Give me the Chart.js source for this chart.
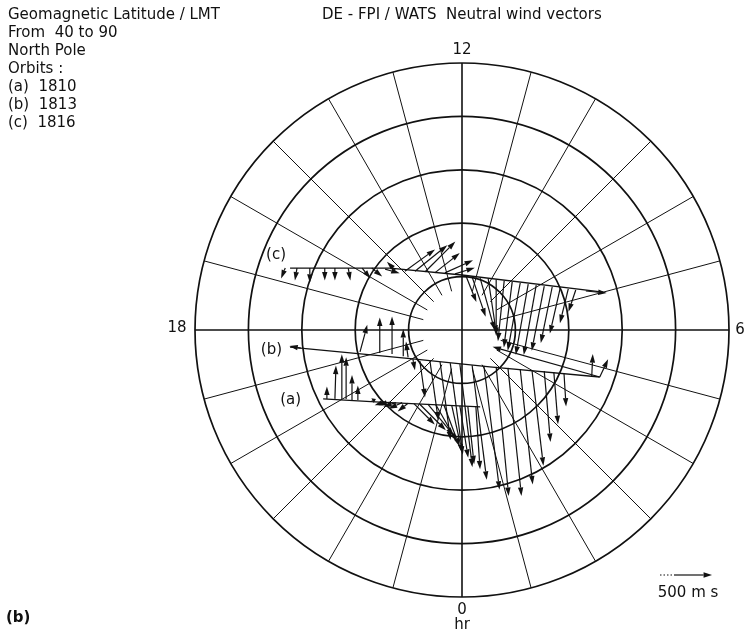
<!DOCTYPE html>
<html>
<head>
<meta charset="utf-8">
<script src="https://cdn.jsdelivr.net/npm/chart.js@4.4.1/dist/chart.umd.min.js"></script>
<style>
  html, body { margin: 0; padding: 0; background: #fff; }
  #wrap { position: relative; width: 747px; height: 637px; }
</style>
</head>
<body>
<div id="wrap"><canvas id="chart" width="747" height="637"></canvas></div>
<script>
// Polar grid: geomagnetic latitude rings and local-time spokes
const latRings = [40, 50, 60, 70, 80];
const spokeHours = [0,1,2,3,4,5,6,7,8,9,10,11,12,13,14,15,16,17,18,19,20,21,22,23];
const hourTicks = [0, 6, 12, 18];
const spokeInnerLat = 82.5;

// Positions: X toward dawn (06 LMT), Y toward noon, in degrees from the pole.
// Winds: U toward dawn, V toward noon, in m/s.

// Orbit 1816 (c)
const cTrackX = [-32.2, -13.5, 0.0, 26.4];
const cTrackY = [11.6, 11.6, 10.3, 7.1];
const cX = [-33.1,-30.9,-28.5,-25.7,-23.8,-21.3,-18.7,-16.9,-14.4,-12.5,-10.7,-8.8,-6.9,-5.1,-3.2,-1.3,
            0.75,1.9,3.4,4.9,6.4,7.9,9.4,10.9,12.4,13.9,15.4,16.9,18.4,19.9,21.3,23.2];
const cY = [11.6,11.6,11.6,11.6,11.6,11.6,11.6,11.6,11.4,11.2,11.0,11.0,10.9,10.7,10.7,10.5,
            10.1,9.9,9.7,9.6,9.4,9.2,9.0,8.8,8.6,8.4,8.2,8.1,7.9,7.7,7.5,7.3];
const cU = [-40,-20,0,0,0,20,80,100,140,-80,290,310,290,240,270,190,
            100,130,140,80,0,-60,-80,-120,-120,-120,-120,-110,-100,-80,-70,200];
const cV = [-100,-120,-140,-120,-120,-120,-100,-80,-40,80,210,250,290,190,120,60,
            -250,-380,-500,-530,-540,-580,-630,-650,-680,-670,-620,-540,-440,-330,-210,-20];

// Orbit 1813 (b)
const bTrackX = [-32.2, -9.2, 5.2, 25.8];
const bTrackY = [-3.2, -5.4, -6.9, -8.8];
const bX = [-30.2,-19.1,-15.4,-13.1,-11.0,-10.1,-9.2,-7.9,-6.0,-4.1,-2.2,-0.4,1.9,4.1,6.4,8.6,10.9,13.1,15.4,17.2,19.1,24.3,25.8,25.8];
const bY = [-3.4,-4.1,-4.3,-4.5,-4.9,-5.1,-5.4,-5.8,-5.8,-6.0,-6.2,-6.4,-6.6,-6.7,-6.9,-7.1,-7.3,-7.5,-7.7,-7.9,-8.1,-8.6,-8.8,-8.8];
const bU = [-110,70,0,0,0,-20,20,50,80,100,120,120,140,150,120,130,120,110,60,40,20,10,80,-1030];
const bV = [20,260,340,360,260,150,-110,-350,-570,-750,-880,-990,-1100,-1190,-1240,-1230,-1110,-920,-680,-500,-320,210,170,290];

// Orbit 1810 (a)
const aTrackX = [-26.0, -15.4, 3.4];
const aTrackY = [-12.9, -13.5, -14.4];
const aX = [-25.3,-23.8,-22.5,-21.7,-20.6,-19.5,-16.9,-14.6,-13.5,-12.4,-11.2,-10.1,-9.0,-7.9,-6.4,-4.9,-3.4,-1.9,-0.4,1.1,2.6];
const aY = [-12.9,-12.9,-12.9,-12.9,-13.1,-13.1,-13.3,-13.5,-13.5,-13.6,-13.6,-13.7,-13.8,-13.9,-13.9,-14.0,-14.0,-14.2,-14.2,-14.4,-14.4];
const aU = [0,10,0,0,0,0,40,-90,-110,-120,-130,-100,200,250,250,200,150,100,80,60,40];
const aV = [120,320,430,400,240,140,20,-30,-30,-40,-60,-80,-200,-250,-300,-350,-400,-450,-500,-550,-600];

// Wind scale: m/s per degree of the map
const msPerDeg = 51.3;
const scaleSpeed = 500;

const headerLines = ['Geomagnetic Latitude / LMT', 'From  40 to 90', 'North Pole', 'Orbits :', '(a)  1810', '(b)  1813', '(c)  1816'];
const titleText = 'DE - FPI / WATS  Neutral wind vectors';

const orbits = [
  { label: '(c)', tx: cTrackX, ty: cTrackY, x: cX, y: cY, u: cU, v: cV, lab: [-4, -13] },
  { label: '(b)', tx: bTrackX, ty: bTrackY, x: bX, y: bY, u: bU, v: bV, lab: [-8, 3] },
  { label: '(a)', tx: aTrackX, ty: aTrackY, x: aX, y: aY, u: aU, v: aV, lab: [-22, 1] }
];

const FONT = '"DejaVu Sans", sans-serif';
const INK = '#111';

function toXY(colat, hour) {
  const a = (12 - hour) * Math.PI / 12;
  return { x: colat * Math.sin(a), y: colat * Math.cos(a) };
}

const polarGrid = {
  id: 'polarGrid',
  beforeDatasetsDraw(chart) {
    const { ctx, scales: { x, y } } = chart;
    const cx = x.getPixelForValue(0), cy = y.getPixelForValue(0);
    const k = x.getPixelForValue(1) - cx;
    ctx.save();
    ctx.strokeStyle = INK;
    latRings.forEach(lat => {
      ctx.lineWidth = 1.7;
      ctx.beginPath();
      ctx.arc(cx, cy, (90 - lat) * k, 0, Math.PI * 2);
      ctx.stroke();
    });
    spokeHours.forEach(h => {
      const main = hourTicks.includes(h);
      const outer = toXY(90 - latRings[0], h);
      const inner = toXY(main ? 0 : 90 - spokeInnerLat, h);
      ctx.lineWidth = main ? 1.6 : 1.0;
      ctx.beginPath();
      ctx.moveTo(x.getPixelForValue(inner.x), y.getPixelForValue(inner.y));
      ctx.lineTo(x.getPixelForValue(outer.x), y.getPixelForValue(outer.y));
      ctx.stroke();
    });
    ctx.restore();
  }
};

function arrow(ctx, x0, y0, x1, y1, lw) {
  const dx = x1 - x0, dy = y1 - y0;
  const len = Math.hypot(dx, dy);
  if (len < 0.5) return;
  const ux = dx / len, uy = dy / len;
  const hl = Math.min(8.5, len * 0.8), hw = 2.7;
  const bx = x1 - ux * hl, by = y1 - uy * hl;
  ctx.lineWidth = lw;
  ctx.beginPath();
  ctx.moveTo(x0, y0);
  ctx.lineTo(bx, by);
  ctx.stroke();
  ctx.beginPath();
  ctx.moveTo(x1, y1);
  ctx.lineTo(bx - uy * hw, by + ux * hw);
  ctx.lineTo(bx + uy * hw, by - ux * hw);
  ctx.closePath();
  ctx.fill();
}

const windVectors = {
  id: 'windVectors',
  afterDatasetsDraw(chart) {
    const { ctx, scales: { x, y } } = chart;
    ctx.save();
    ctx.strokeStyle = INK;
    ctx.fillStyle = INK;
    orbits.forEach(o => {
      o.x.forEach((px, i) => {
        const x0 = x.getPixelForValue(px), y0 = y.getPixelForValue(o.y[i]);
        const x1 = x.getPixelForValue(px + o.u[i] / msPerDeg);
        const y1 = y.getPixelForValue(o.y[i] + o.v[i] / msPerDeg);
        arrow(ctx, x0, y0, x1, y1, 1.2);
      });
    });
    ctx.restore();
  },
  afterDraw(chart) {
    const { ctx, scales: { x, y } } = chart;
    const cx = x.getPixelForValue(0), cy = y.getPixelForValue(0);
    const R = cx - x.getPixelForValue(-(90 - latRings[0]));
    ctx.save();
    ctx.fillStyle = INK;
    ctx.strokeStyle = INK;
    ctx.font = '15px ' + FONT;
    ctx.textBaseline = 'middle';
    ctx.textAlign = 'left';
    headerLines.forEach((t, i) => ctx.fillText(t, 8, 15 + i * 18));
    ctx.fillText(titleText, 322, 15);
    // hour labels
    ctx.textAlign = 'center';
    ctx.fillText('12', cx, cy - R - 13);
    ctx.fillText('0', cx, cy + R + 13);
    ctx.fillText('hr', cx, cy + R + 28);
    ctx.fillText('18', cx - R - 18, cy - 2);
    ctx.fillText('6', cx + R + 11, cy);
    // orbit labels at the start of each track
    ctx.textAlign = 'right';
    orbits.forEach(o => {
      const px = x.getPixelForValue(o.tx[0]) + o.lab[0];
      const py = y.getPixelForValue(o.ty[0]) + o.lab[1];
      ctx.fillText(o.label, px, py);
    });
    // panel letter
    ctx.textAlign = 'left';
    ctx.font = 'bold 15px ' + FONT;
    ctx.fillText('(b)', 6, 618);
    // wind scale arrow
    const len = x.getPixelForValue(scaleSpeed / msPerDeg) - x.getPixelForValue(0);
    const sx = 660, sy = 575;
    ctx.setLineDash([1.5, 2]);
    ctx.lineWidth = 1.2;
    ctx.beginPath(); ctx.moveTo(sx, sy); ctx.lineTo(sx + 14, sy); ctx.stroke();
    ctx.setLineDash([]);
    arrow(ctx, sx + 14, sy, sx + len, sy, 1.2);
    ctx.font = '15px ' + FONT;
    ctx.textAlign = 'center';
    ctx.fillText('500 m s', sx + len / 2 + 2, sy + 18);
    ctx.restore();
  }
};

const trackSets = orbits.map(o => ({
  data: o.tx.map((v, i) => ({ x: v, y: o.ty[i] })),
  showLine: true,
  borderColor: INK,
  borderWidth: 1.3,
  pointRadius: 0,
  fill: false,
  tension: 0
}));

new Chart(document.getElementById('chart'), {
  type: 'scatter',
  data: { datasets: trackSets },
  options: {
    responsive: false,
    animation: false,
    devicePixelRatio: 1,
    layout: { padding: { left: 195, right: 18, top: 63, bottom: 40 } },
    plugins: { legend: { display: false }, tooltip: { enabled: false } },
    scales: {
      x: { type: 'linear', min: -50, max: 50, display: false },
      y: { type: 'linear', min: -50, max: 50, display: false }
    }
  },
  plugins: [polarGrid, windVectors]
});
</script>
</body>
</html>
